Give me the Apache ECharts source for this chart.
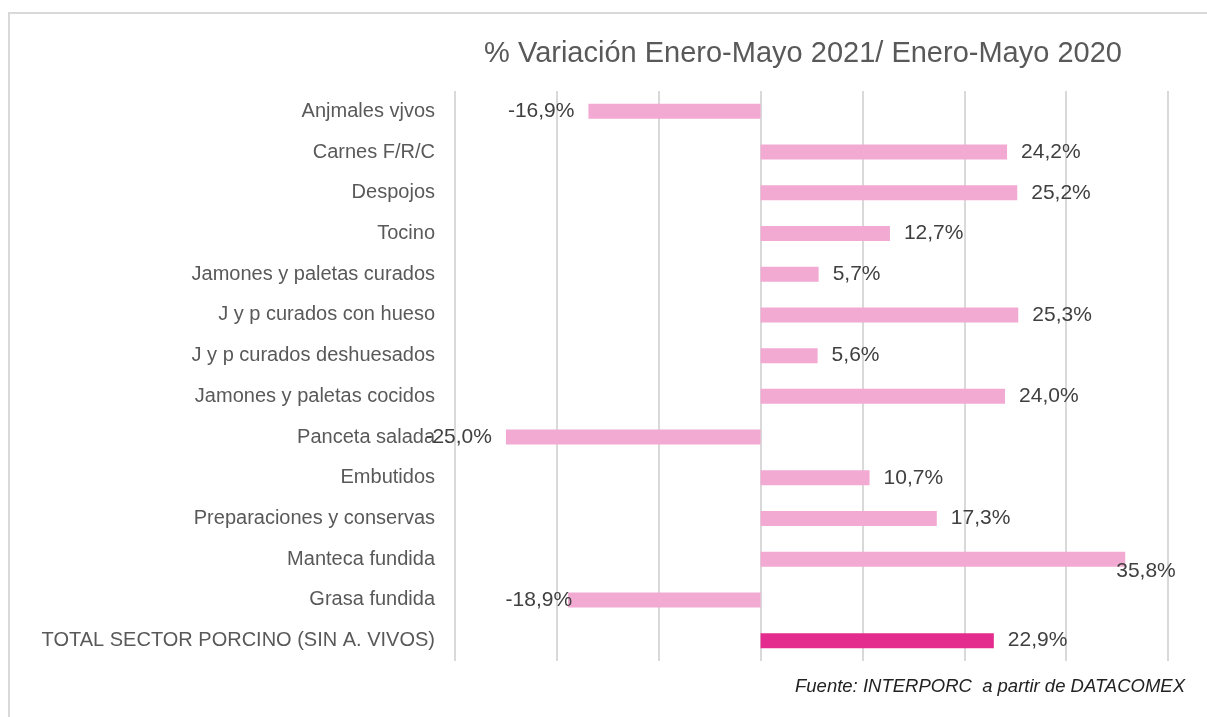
<!DOCTYPE html>
<html>
<head>
<meta charset="utf-8">
<script src="https://cdn.jsdelivr.net/npm/echarts@6/dist/echarts.min.js"></script>
<style>
  html, body { margin: 0; padding: 0; background: #fff; }
  #chart_bar { width: 1207px; height: 717px; }
</style>
</head>
<body>
<div id="chart_bar"></div>
<script>
// categorias (de arriba abajo)
var categorias = [
  'Anjmales vjvos',
  'Carnes F/R/C',
  'Despojos',
  'Tocino',
  'Jamones y paletas curados',
  'J y p curados con hueso',
  'J y p curados deshuesados',
  'Jamones y paletas cocidos',
  'Panceta salada',
  'Embutidos',
  'Preparaciones y conservas',
  'Manteca fundida',
  'Grasa fundida',
  'TOTAL SECTOR PORCINO (SIN A. VIVOS)'
];
// % variacion
var variacion = [-16.9, 24.2, 25.2, 12.7, 5.7, 25.3, 5.6, 24.0, -25.0, 10.7, 17.3, 35.8, -18.9, 22.9];

var titulo = '% Variación Enero-Mayo 2021/ Enero-Mayo 2020';
var fuente = 'Fuente: INTERPORC  a partir de DATACOMEX';

var rosa = '#f2a9d2', rosaTotal = '#e32c8e';
var fontCat = 'Liberation Sans';

function fmt(v) { return v.toFixed(1).replace('.', ',') + '%'; }

var datos = variacion.map(function (v, i) {
  var item = {
    value: v,
    itemStyle: { color: i === variacion.length - 1 ? rosaTotal : rosa },
    label: { position: v < 0 ? 'left' : 'right', distance: 14 }
  };
  if (categorias[i] === 'Manteca fundida') item.label.offset = [-23, 12];
  if (categorias[i] === 'Grasa fundida') item.label.distance = -4;
  return item;
});

var chart = echarts.init(document.getElementById('chart_bar'));
chart.setOption({
  backgroundColor: '#fff',
  animation: false,
  title: {
    text: titulo,
    left: 798, top: 34, textAlign: 'center',
    textStyle: { fontFamily: fontCat, fontWeight: 'normal', fontSize: 29, color: '#595959' }
  },
  graphic: [
    { type: 'rect', shape: { x: 9, y: 13, width: 1220, height: 720 },
      style: { fill: null, stroke: '#d9d9d9', lineWidth: 2 }, silent: true },
    { type: 'text', right: 22, top: 677,
      style: { text: fuente, font: 'italic 18.5px "Liberation Sans"', fill: '#222' } }
  ],
  grid: { left: 455, right: 39, top: 91, bottom: 56 },
  xAxis: {
    type: 'value', min: -30, max: 40, interval: 10,
    axisLabel: { show: false }, axisTick: { show: false }, axisLine: { show: false },
    splitLine: { lineStyle: { color: '#d9d9d9', width: 2 } }
  },
  yAxis: {
    type: 'category', data: categorias, inverse: true,
    axisLine: { show: false }, axisTick: { show: false },
    axisLabel: { margin: 20, fontFamily: fontCat, fontSize: 20, color: '#595959' }
  },
  series: [{
    type: 'bar', data: datos, barWidth: 15,
    label: {
      show: true, fontFamily: fontCat, fontSize: 21, color: '#404040',
      formatter: function (p) { return fmt(p.value); }
    }
  }]
});
</script>
</body>
</html>
